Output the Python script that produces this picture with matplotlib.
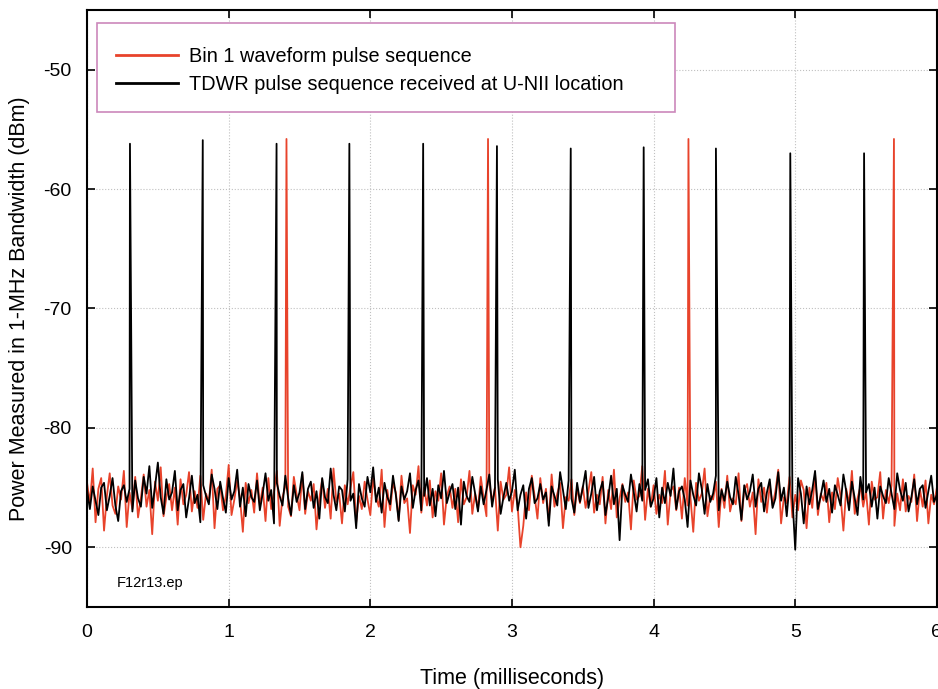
import numpy as np
import matplotlib.pyplot as plt
from matplotlib.patches import Rectangle

plt.rcParams['font.family'] = ['Liberation Sans', 'DejaVu Sans']
plt.rcParams['axes.unicode_minus'] = False

# pulse times (ms) and peak levels (dBm)
black_pulse_t = [0.303, 0.817, 1.338, 1.852, 2.373, 2.894, 3.415, 3.930, 4.440, 4.965, 5.486]
black_pulse_v = [-56.2, -55.9, -56.2, -56.2, -56.2, -56.4, -56.6, -56.5, -56.6, -57.0, -57.0]
red_pulse_t = [1.408, 2.831, 4.246, 5.697]
red_pulse_v = [-55.8, -55.8, -55.8, -55.8]

# background noise samples (dBm), evenly spaced over 0..6 ms
black_noise = [
    -85.2, -86.8, -84.9, -86.1, -87.3, -85.0, -84.6, -86.9, -85.7, -84.2, -86.5, -87.8, -85.3, -84.8, -86.2, -85.1, -87.0, -84.4, -85.9, -86.6,
    -84.1, -85.5, -83.2, -86.7, -84.9, -82.9, -85.8, -87.2, -84.3, -86.0, -85.4, -83.6, -86.9, -85.2, -84.7, -87.5, -85.9, -84.0, -86.3, -85.6,
    -87.9, -84.8, -85.7, -86.4, -83.9, -85.1, -86.8, -84.5, -85.9, -87.1, -84.2, -86.0, -85.3, -83.5, -86.6, -85.0, -87.4, -84.7, -85.8, -86.2,
    -84.4, -86.9, -85.5, -83.8, -86.1, -85.2, -88.0, -84.6, -85.7, -86.5, -84.0, -85.9, -87.3, -84.8, -86.2, -85.4, -83.7, -86.8, -85.1, -84.5,
    -86.7, -85.3, -87.6, -84.2, -85.8, -86.3, -83.4, -85.6, -86.9, -84.9, -85.2, -87.0, -84.3, -86.1, -85.5, -88.4, -84.7, -85.9, -86.6, -84.1,
    -85.4, -83.3, -86.2, -85.0, -87.1, -84.6, -85.8, -86.4, -84.0, -85.6, -87.8, -84.9, -86.0, -85.3, -83.8, -86.7, -85.2, -84.4, -86.9, -85.7,
    -84.2, -86.5, -85.1, -87.4, -84.8, -85.9, -83.6, -86.3, -85.4, -84.7, -86.8, -85.0, -88.1, -84.5, -85.7, -86.2, -84.1, -85.5, -87.0, -84.9,
    -86.4, -85.2, -83.9, -86.6, -85.0, -84.3, -87.2, -85.8, -84.6, -86.1, -85.3, -83.5, -86.9, -85.6, -84.8, -87.6, -85.1, -84.2, -86.3, -85.9,
    -84.7, -86.0, -85.4, -88.2, -84.9, -85.7, -86.5, -83.7, -85.2, -86.8, -84.4, -85.9, -87.1, -84.6, -86.2, -85.0, -83.6, -86.7, -85.5, -84.1,
    -86.9, -85.3, -84.5, -87.3, -85.8, -84.0, -86.4, -85.1, -89.4, -84.8, -85.6, -86.2, -83.9, -85.4, -87.0, -84.7, -86.1, -85.2, -84.3, -86.6,
    -85.9, -84.2, -87.5, -85.0, -86.3, -84.6, -85.7, -83.4, -86.8, -85.3, -84.9, -86.0, -88.3, -84.4, -85.6, -86.5, -83.8, -85.1, -87.2, -84.7,
    -86.2, -85.5, -84.0, -86.9, -85.2, -86.1, -84.5, -85.8, -86.4, -84.1, -85.6, -87.7, -84.8, -86.0, -85.3, -83.9, -86.6, -85.1, -84.6, -87.0,
    -85.4, -84.3, -86.7, -85.9, -83.7, -86.1, -85.0, -87.4, -84.6, -85.8, -90.2, -84.2, -85.5, -88.0, -84.9, -86.4, -85.2, -83.6, -86.8, -85.7,
    -84.4, -86.2, -85.1, -87.1, -84.8, -85.6, -86.5, -83.9, -85.3, -86.9, -84.5, -85.9, -87.3, -84.1, -86.0, -85.4, -84.7, -86.6, -85.0, -87.6,
    -84.9, -85.7, -86.3, -84.2, -85.5, -86.8, -83.8, -85.2, -86.1, -84.6, -87.0, -85.8, -84.3, -86.4, -85.1, -84.8, -86.7, -85.3, -84.0, -86.2, -85.6,
]
red_noise = [
    -84.6, -86.3, -83.4, -87.9, -85.1, -84.2, -88.6, -85.7, -83.8, -86.5, -87.2, -84.9, -86.0, -83.6, -88.3, -85.4, -86.8, -84.1, -87.5, -85.9,
    -83.9, -86.6, -85.2, -88.9, -84.5, -86.1, -83.3, -87.4, -85.8, -84.7, -86.9, -85.0, -88.1, -84.3, -86.4, -85.6, -83.7, -87.0, -85.3, -86.7,
    -84.0, -87.7, -85.5, -86.2, -83.5, -88.4, -85.1, -84.8, -86.9, -85.7, -83.1, -87.3, -86.0, -84.4, -85.9, -88.7, -84.6, -86.3, -85.2, -87.1,
    -83.8, -86.5, -85.0, -87.8, -84.2, -86.8, -85.4, -83.6, -88.2, -85.8, -84.9, -86.6, -87.4, -84.1, -85.6, -86.9, -83.9, -87.2, -85.3, -86.1,
    -84.7, -88.5, -85.9, -84.3, -86.7, -85.1, -87.6, -83.4, -86.2, -85.5, -88.0, -84.8, -86.4, -85.0, -83.7, -87.9, -85.7, -86.8, -84.5, -86.0,
    -87.3, -84.2, -85.8, -86.6, -83.5, -88.3, -85.2, -86.9, -84.6, -85.4, -87.7, -84.0, -86.3, -85.9, -88.8, -84.8, -85.6, -83.2, -87.1, -85.0,
    -86.5, -84.4, -87.5, -85.3, -86.1, -83.8, -88.1, -85.7, -84.9, -86.7, -85.1, -87.9, -84.3, -86.4, -85.8, -83.6, -87.2, -85.5, -86.8, -84.1,
    -85.9, -87.4, -84.7, -86.2, -85.0, -88.6, -84.5, -86.0, -85.6, -83.3, -87.0, -85.2, -86.5, -90.0, -88.2, -85.4, -86.9, -84.0, -85.7, -87.6,
    -84.2, -86.3, -85.1, -87.8, -83.9, -86.6, -85.5, -84.6, -88.4, -85.8, -86.1, -84.3, -87.3, -85.0, -86.3, -84.9, -86.7, -85.3, -83.7, -87.1,
    -85.6, -86.4, -84.1, -88.0, -85.2, -86.8, -83.5, -87.5, -85.9, -84.7, -86.2, -85.4, -88.5, -84.4, -86.0, -85.7, -83.2, -87.7, -85.1, -86.6,
    -84.8, -87.2, -85.6, -86.3, -83.6, -88.1, -85.3, -84.9, -86.9, -85.0, -87.6, -84.2, -86.5, -85.8, -88.7, -84.6, -86.1, -85.5, -83.4, -87.4,
    -85.7, -86.0, -84.5, -88.3, -85.1, -86.7, -84.0, -87.0, -85.9, -86.4, -83.8, -87.8, -85.2, -84.7, -86.6, -85.4, -88.9, -84.3, -86.2, -85.0,
    -87.1, -84.8, -86.5, -85.3, -83.5, -88.0, -85.8, -86.3, -84.1, -87.5, -85.6, -86.9, -84.4, -85.2, -88.4, -85.0, -86.7, -83.9, -87.3, -85.5,
    -86.1, -84.6, -87.9, -85.4, -86.8, -84.2, -85.7, -88.6, -85.1, -86.4, -83.6, -87.2, -85.9, -84.9, -86.6, -85.3, -88.1, -84.5, -86.0, -85.8,
    -83.7, -87.6, -85.2, -86.3, -84.8, -88.2, -85.5, -86.9, -84.3, -87.0, -85.7, -86.2, -83.9, -87.8, -85.1, -86.6, -84.4, -88.0, -85.6, -86.4, -85.0,
]

x_ticks = [0, 1, 2, 3, 4, 5, 6]
y_ticks = [-90, -80, -70, -60, -50]


def merge(noise, pulse_t, pulse_v):
    # put the pulse peaks in among the noise samples, sorted by time
    t = np.concatenate([np.linspace(0, 6, len(noise)), pulse_t])
    v = np.concatenate([noise, pulse_v])
    order = np.argsort(t, kind='stable')
    return t[order], v[order]


red_t, red_v = merge(red_noise, red_pulse_t, red_pulse_v)
blk_t, blk_v = merge(black_noise, black_pulse_t, black_pulse_v)

fig = plt.figure(figsize=(9.38, 6.89), dpi=100)
ax = fig.add_axes([0.0928, 0.119, 0.906, 0.8665])

ax.plot(red_t, red_v, color='#e8432b', lw=1.3, label='Bin 1 waveform pulse sequence')
ax.plot(blk_t, blk_v, color='black', lw=1.3, label='TDWR pulse sequence received at U-NII location')

ax.set_xlim(0, 6)
ax.set_ylim(-95, -45)
ax.set_xticks(x_ticks)
ax.set_yticks(y_ticks)
ax.grid(True, color='#c0c0c0', linestyle=':', lw=0.8)
ax.tick_params(direction='in', length=6, width=1.2, top=True, right=True,
               labelsize=14, pad=12)
ax.tick_params(axis='y', pad=11)
for s in ax.spines.values():
    s.set_linewidth(1.5)

ax.set_xlabel('Time (milliseconds)', fontsize=15.5, labelpad=20)
ax.set_ylabel('Power Measured in 1-MHz Bandwidth (dBm)', fontsize=15.5, labelpad=10)

ax.text(0.21, -93, 'F12r13.ep', fontsize=10.5, va='center')

# legend box with a pink frame
ax.add_patch(Rectangle((0.0118, 0.829), 0.68, 0.149, transform=ax.transAxes,
                       facecolor='white', edgecolor='#cc88bb', lw=1.2, zorder=4))
leg = ax.legend(loc='upper left', bbox_to_anchor=(0.034, 0.938), frameon=False,
                fontsize=14.3, handlelength=3.1, labelspacing=0.45, handletextpad=0.6,
                borderpad=0, borderaxespad=0)
leg.set_zorder(5)
for h in leg.get_lines():
    h.set_linewidth(2)

fig.savefig('out.png', dpi=100)
